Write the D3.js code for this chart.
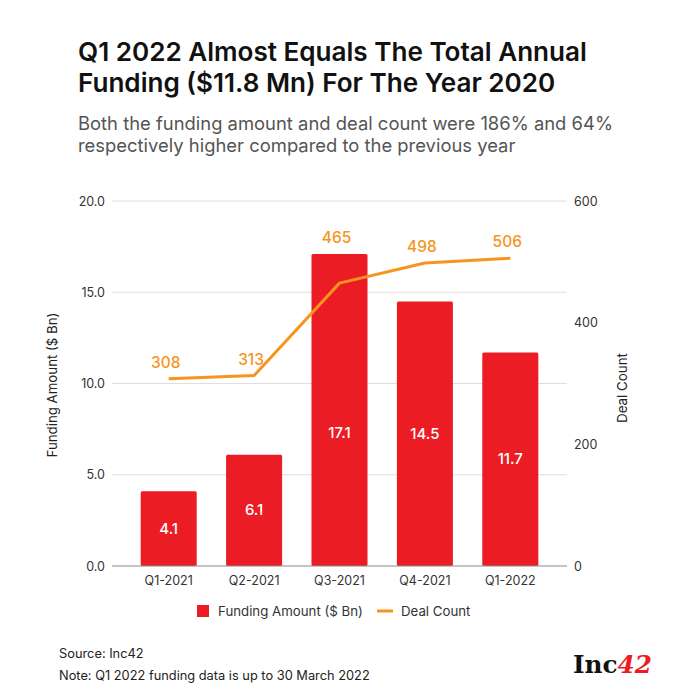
<!DOCTYPE html>
<html>
<head>
<meta charset="utf-8">
<script src="https://cdn.jsdelivr.net/npm/d3@7"></script>
<style>
  html, body { margin: 0; padding: 0; background: #fff; }
  svg { display: block; }
  text { font-family: "Inter", "Noto Sans", "Open Sans", sans-serif; }
</style>
</head>
<body>
<svg id="chart" width="690" height="690"></svg>
<script>
// ---- data ----
const categories = ["Q1-2021", "Q2-2021", "Q3-2021", "Q4-2021", "Q1-2022"];
const fundingAmount = [4.1, 6.1, 17.1, 14.5, 11.7];
const dealCount = [308, 313, 465, 498, 506];
const leftTicks = [0, 5, 10, 15, 20];
const rightTicks = [0, 200, 400, 600];

const titleLines = ["Q1 2022 Almost Equals The Total Annual", "Funding ($11.8 Mn) For The Year 2020"];
const subtitleLines = ["Both the funding amount and deal count were 186% and 64%", "respectively higher compared to the previous year"];
const footnotes = ["Source: Inc42", "Note: Q1 2022 funding data is up to 30 March 2022"];

// ---- setup ----
const RED = "#EC1C24", ORANGE = "#F7941D";
const svg = d3.select("#chart");
const plotLeft = 112, plotRight = 567, plotTop = 201, plotBottom = 566;

const x = d3.scaleBand().domain(categories).range([plotLeft, plotRight]).paddingInner(0.344).paddingOuter(0.336);
const yL = d3.scaleLinear().domain([0, 20]).range([plotBottom, plotTop]);
const yR = d3.scaleLinear().domain([0, 600]).range([plotBottom, plotTop]);

function fitWidth(sel, target) {
  sel.each(function () {
    const w = this.getComputedTextLength();
    const fs = parseFloat(d3.select(this).attr("font-size"));
    d3.select(this).attr("font-size", (fs * target / w).toFixed(2));
  });
}

// ---- title & subtitle ----
const t1 = svg.append("text").attr("x", 78).attr("y", 61).attr("font-size", 25).attr("font-weight", 600).attr("fill", "#111").text(titleLines[0]);
fitWidth(t1, 509);
const t1fs = t1.attr("font-size");
svg.append("text").attr("x", 78).attr("y", 92).attr("font-size", t1fs).attr("font-weight", 600).attr("fill", "#111").text(titleLines[1]);

const s1 = svg.append("text").attr("x", 78).attr("y", 130).attr("font-size", 18).attr("fill", "#555").text(subtitleLines[0]);
fitWidth(s1, 535);
const s1fs = s1.attr("font-size");
svg.append("text").attr("x", 78).attr("y", 152).attr("font-size", s1fs).attr("fill", "#555").text(subtitleLines[1]);

// ---- gridlines ----
svg.append("g").selectAll("line").data(leftTicks.filter(d => d > 0)).join("line")
  .attr("x1", plotLeft).attr("x2", plotRight)
  .attr("y1", d => yL(d)).attr("y2", d => yL(d))
  .attr("stroke", "#dedede").attr("stroke-width", 1);

// ---- left axis ----
const axL = svg.append("g").attr("transform", `translate(${plotLeft},0)`)
  .call(d3.axisLeft(yL).tickValues(leftTicks).tickFormat(d3.format(".1f")).tickSize(0).tickPadding(7));
axL.select(".domain").remove();
axL.selectAll("text").attr("font-size", 12.5).attr("fill", "#333").style("font-family", "Inter, 'Noto Sans', sans-serif");

// ---- right axis ----
const axR = svg.append("g").attr("transform", `translate(${plotRight},0)`)
  .call(d3.axisRight(yR).tickValues(rightTicks).tickFormat(d3.format("d")).tickSize(0).tickPadding(7));
axR.select(".domain").remove();
axR.selectAll("text").attr("font-size", 12.5).attr("fill", "#333").style("font-family", "Inter, 'Noto Sans', sans-serif");

// ---- bars ----
svg.append("g").selectAll("rect").data(fundingAmount).join("rect")
  .attr("x", (d, i) => x(categories[i]))
  .attr("y", d => yL(d))
  .attr("width", x.bandwidth())
  .attr("height", d => yL(0) - yL(d))
  .attr("rx", 1.5)
  .attr("fill", RED);

// bar value labels
svg.append("g").selectAll("text").data(fundingAmount).join("text")
  .attr("x", (d, i) => x(categories[i]) + x.bandwidth() / 2)
  .attr("y", d => yL(Math.min(d / 2, 7.3)) + 5)
  .attr("text-anchor", "middle").attr("font-size", 15).attr("font-weight", 500)
  .attr("fill", "#fff")
  .text(d => d.toFixed(1));

// ---- bottom axis ----
svg.append("line").attr("x1", plotLeft).attr("x2", plotRight).attr("y1", plotBottom).attr("y2", plotBottom)
  .attr("stroke", "#8a8a8a").attr("stroke-width", 1);
const axB = svg.append("g").attr("transform", `translate(0,${plotBottom})`)
  .call(d3.axisBottom(x).tickSize(0).tickPadding(10));
axB.select(".domain").remove();
axB.selectAll("text").attr("font-size", 12.5).attr("fill", "#333").style("font-family", "Inter, 'Noto Sans', sans-serif");

// ---- line ----
const cx = i => x(categories[i]) + x.bandwidth() / 2;
const line = d3.line().x((d, i) => cx(i)).y(d => yR(d));
svg.append("path").datum(dealCount).attr("d", line)
  .attr("fill", "none").attr("stroke", ORANGE).attr("stroke-width", 3).attr("stroke-linejoin", "round");

svg.append("g").selectAll("text").data(dealCount).join("text")
  .attr("x", (d, i) => cx(i) - 3)
  .attr("y", (d, i) => Math.min(yR(d), yL(fundingAmount[i])) - 11)
  .attr("text-anchor", "middle").attr("font-size", 15.5).attr("font-weight", 500)
  .attr("fill", ORANGE)
  .text(d => d);

// ---- axis titles ----
const at1 = svg.append("text").attr("transform", "translate(57,385) rotate(-90)")
  .attr("text-anchor", "middle").attr("font-size", 12.5).attr("fill", "#222").text("Funding Amount ($ Bn)");
fitWidth(at1, 145);
const at2 = svg.append("text").attr("transform", "translate(627,388) rotate(-90)")
  .attr("text-anchor", "middle").attr("font-size", 12.5).attr("fill", "#222").text("Deal Count");
fitWidth(at2, 70);

// ---- legend ----
const lg = svg.append("g");
lg.append("rect").attr("x", 197).attr("y", 605).attr("width", 12).attr("height", 12).attr("fill", RED);
const lt1 = lg.append("text").attr("x", 218).attr("y", 615.5).attr("font-size", 13).attr("fill", "#333").text("Funding Amount ($ Bn)");
fitWidth(lt1, 145);
lg.append("line").attr("x1", 377).attr("x2", 393).attr("y1", 611).attr("y2", 611).attr("stroke", ORANGE).attr("stroke-width", 3);
lg.append("text").attr("x", 401).attr("y", 615.5).attr("font-size", lt1.attr("font-size")).attr("fill", "#333").text("Deal Count");

// ---- footnotes ----
const fn2 = svg.append("text").attr("x", 59).attr("y", 680).attr("font-size", 12.5).attr("fill", "#222").text(footnotes[1]);
fitWidth(fn2, 311);
svg.append("text").attr("x", 59).attr("y", 658).attr("font-size", fn2.attr("font-size")).attr("fill", "#222").text(footnotes[0]);

// ---- logo ----
const logo = svg.append("text").attr("x", 573).attr("y", 673).attr("font-size", 25).attr("font-weight", 700)
  .style("font-family", "'DejaVu Serif', 'Liberation Serif', serif").attr("fill", "#111");
logo.append("tspan").text("Inc");
logo.append("tspan").attr("fill", RED).attr("font-style", "italic").text("42");
fitWidth(logo, 79);
</script>
</body>
</html>
